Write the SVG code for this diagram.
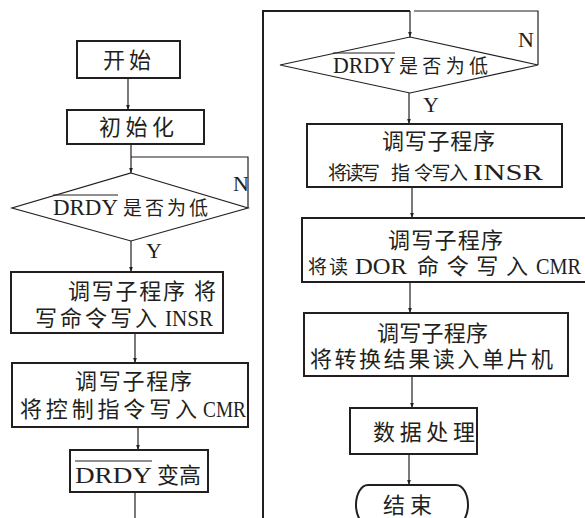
<svg xmlns="http://www.w3.org/2000/svg" width="585" height="518" viewBox="0 0 585 518">
<defs>
<marker id="ah" viewBox="0 0 6 6" refX="6" refY="3" markerWidth="5" markerHeight="5" markerUnits="userSpaceOnUse" orient="auto">
<path d="M0,0.8 L6,3 L0,5.2 Z" fill="#231f20"/>
</marker>
<style>
.box{fill:#fff;stroke:#231f20;stroke-width:2}
.ln{fill:none;stroke:#231f20;stroke-width:1.2}
.cn{font-family:"Noto Sans CJK SC","Noto Sans",sans-serif;font-size:22px;fill:#231f20}
.sm{font-size:19px}
.lt{font-family:"Liberation Serif","DejaVu Serif",serif;font-size:24px;fill:#231f20}
.yn{font-family:"Liberation Serif","DejaVu Serif",serif;font-size:22px;fill:#231f20}
.ov{stroke:#231f20;stroke-width:1}
</style>
</defs>
<rect width="585" height="518" fill="#fff"/>
<g id="connectors">
<line class="ln" x1="128" y1="78" x2="128" y2="110" marker-end="url(#ah)"/>
<line class="ln" x1="131" y1="144" x2="131" y2="173" marker-end="url(#ah)"/>
<polyline class="ln" points="248,208 248,157 131,157"/>
<line class="ln" x1="131" y1="241" x2="131" y2="272" marker-end="url(#ah)"/>
<line class="ln" x1="135" y1="333" x2="135" y2="363" marker-end="url(#ah)"/>
<line class="ln" x1="138" y1="427" x2="138" y2="450" marker-end="url(#ah)"/>
<line class="ln" x1="135" y1="492" x2="135" y2="518"/>
<polyline fill="none" stroke="#231f20" stroke-width="2" points="263,518 263,11 410,11"/>
<line class="ln" x1="410" y1="11" x2="410" y2="37" marker-end="url(#ah)"/>
<polyline class="ln" points="538,65 538,11 414,11"/>
<line class="ln" x1="409" y1="93" x2="409" y2="124" marker-end="url(#ah)"/>
<line class="ln" x1="412" y1="187" x2="412" y2="218" marker-end="url(#ah)"/>
<line class="ln" x1="410" y1="282" x2="410" y2="313" marker-end="url(#ah)"/>
<line class="ln" x1="412" y1="376" x2="412" y2="408" marker-end="url(#ah)"/>
<line class="ln" x1="409" y1="454" x2="409" y2="485" marker-end="url(#ah)"/>
</g>
<g id="start">
<rect class="box" x="77" y="41" width="103" height="37"/>
<text class="cn" x="103" y="68" textLength="48" lengthAdjust="spacing">开始</text>
</g>
<g id="init">
<rect class="box" x="67" y="110" width="137" height="34"/>
<text class="cn" x="99" y="135" textLength="75" lengthAdjust="spacing">初始化</text>
</g>
<g id="decision1">
<polygon class="ln" points="131,173 248,208 131,241 12,208"/>
<text y="215"><tspan class="lt" x="53" textLength="65" lengthAdjust="spacingAndGlyphs">DRDY</tspan><tspan class="cn"> </tspan><tspan class="cn sm" x="123" textLength="85" lengthAdjust="spacing">是否为低</tspan></text>
<line class="ov" x1="53" y1="195" x2="118" y2="195"/>
<text class="yn" x="233" y="191">N</text>
<text class="yn" x="146" y="258">Y</text>
</g>
<g id="write-insr">
<rect class="box" x="11" y="272" width="212" height="61"/>
<text class="cn" y="299"><tspan x="68" textLength="117" lengthAdjust="spacing">调写子程序</tspan><tspan> </tspan><tspan x="194">将</tspan></text>
<text y="326"><tspan class="cn" x="35" textLength="122" lengthAdjust="spacing">写命令写入</tspan><tspan class="cn"> </tspan><tspan class="lt" x="165" textLength="48" lengthAdjust="spacingAndGlyphs">INSR</tspan></text>
</g>
<g id="write-cmr">
<rect class="box" x="12" y="363" width="236" height="64"/>
<text class="cn" x="75" y="389" textLength="117" lengthAdjust="spacing">调写子程序</text>
<text y="417"><tspan class="cn" x="20" textLength="177" lengthAdjust="spacing">将控制指令写入</tspan><tspan class="cn"> </tspan><tspan class="lt" x="203" textLength="43" lengthAdjust="spacingAndGlyphs">CMR</tspan></text>
</g>
<g id="drdy-high">
<rect class="box" x="70" y="450" width="138" height="42"/>
<text y="483"><tspan class="lt" x="75" textLength="77" lengthAdjust="spacingAndGlyphs">DRDY</tspan><tspan class="cn"> </tspan><tspan class="cn" x="157" textLength="44" lengthAdjust="spacing">变高</tspan></text>
<line class="ov" x1="75" y1="461" x2="152" y2="461"/>
</g>
<g id="decision2">
<polygon class="ln" points="410,37 538,65 410,93 280,65"/>
<text y="73"><tspan class="lt" x="333" textLength="62" lengthAdjust="spacingAndGlyphs">DRDY</tspan><tspan class="cn"> </tspan><tspan class="cn sm" x="399" textLength="89" lengthAdjust="spacing">是否为低</tspan></text>
<line class="ov" x1="333" y1="53" x2="395" y2="53"/>
<text class="yn" x="518" y="47">N</text>
<text class="yn" x="423" y="112">Y</text>
</g>
<g id="read-insr">
<rect class="box" x="307" y="124" width="255" height="63"/>
<text class="cn" x="382" y="149" textLength="113" lengthAdjust="spacing">调写子程序</text>
<text y="180"><tspan class="cn sm" x="328" textLength="52" lengthAdjust="spacing">将读写</tspan><tspan class="cn sm"> </tspan><tspan class="cn sm" x="391">指</tspan><tspan class="cn sm"> </tspan><tspan class="cn sm" x="414" textLength="54" lengthAdjust="spacing">令写入</tspan><tspan class="cn"> </tspan><tspan class="lt" x="473" textLength="70" lengthAdjust="spacingAndGlyphs">INSR</tspan></text>
</g>
<g id="read-dor">
<rect class="box" x="302" y="218" width="290" height="64"/>
<text class="cn" x="388" y="248" textLength="115" lengthAdjust="spacing">调写子程序</text>
<text y="274"><tspan class="cn sm" x="308" textLength="40" lengthAdjust="spacing">将读</tspan><tspan class="cn"> </tspan><tspan class="lt" x="355" textLength="52" lengthAdjust="spacingAndGlyphs">DOR</tspan><tspan class="cn"> </tspan><tspan class="cn" x="417" textLength="111" lengthAdjust="spacing">命令写入</tspan><tspan class="cn"> </tspan><tspan class="lt" x="536" textLength="45" lengthAdjust="spacingAndGlyphs">CMR</tspan></text>
</g>
<g id="read-result">
<rect class="box" x="304" y="313" width="264" height="63"/>
<text class="cn" x="377" y="341" textLength="111" lengthAdjust="spacing">调写子程序</text>
<text class="cn" x="310" y="367" textLength="243" lengthAdjust="spacing">将转换结果读入单片机</text>
</g>
<g id="process">
<rect class="box" x="350" y="408" width="127" height="46"/>
<text class="cn" x="373" y="440" textLength="102" lengthAdjust="spacing">数据处理</text>
</g>
<g id="end">
<path class="box" d="M368,485 L456,485 A12,20 0 0 1 456,525 L368,525 A12,20 0 0 1 368,485 Z"/>
<text class="cn" x="383" y="513" textLength="49" lengthAdjust="spacing">结束</text>
</g>
</svg>
